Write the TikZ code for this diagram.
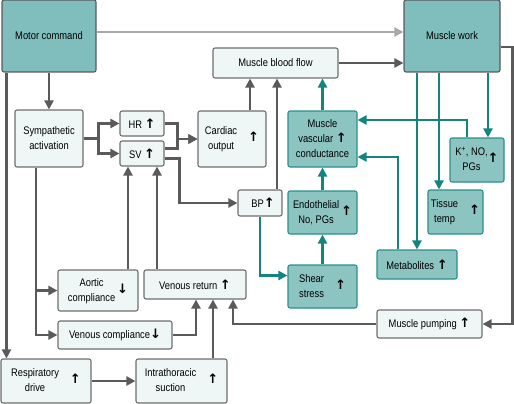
\documentclass[tikz,border=0pt]{standalone}
\usepackage{fontspec}
\setmainfont[FakeStretch=0.85]{Liberation Sans}
\newfontfamily\arrowfont{DejaVu Sans}
\usetikzlibrary{arrows.meta}
\definecolor{lightfill}{HTML}{EEF6F6}
\definecolor{boxline}{HTML}{6E6E6E}
\definecolor{tealfill}{HTML}{8CC4C2}
\definecolor{tealline}{HTML}{2A8F8A}
\definecolor{motorfill}{HTML}{7FBEBC}
\definecolor{tealarrow}{HTML}{13857F}
\definecolor{darkarrow}{HTML}{5A5A5A}
\definecolor{greyarrow}{HTML}{A8A8A8}
\newcommand{\up}{{\arrowfont\bfseries\fontsize{13}{13}\selectfont ↑}}
\newcommand{\down}{{\arrowfont\bfseries\fontsize{13}{13}\selectfont ↓}}
\newcommand{\two}[2]{\begin{tabular}{@{}c@{}}#1\\#2\end{tabular}}
\begin{document}
\begin{tikzpicture}[x=1pt,y=-1pt,>={Triangle[length=9pt,width=9pt]},
  font=\fontsize{11}{15}\selectfont,
  lbox/.style={draw=boxline, fill=lightfill, rounded corners=2pt, line width=1.1pt, align=center, inner sep=1pt},
  tbox/.style={draw=tealline, fill=tealfill, rounded corners=2pt, line width=1.1pt, align=center, inner sep=1pt},
  mbox/.style={draw=darkarrow, fill=motorfill, rounded corners=2pt, line width=1.1pt, align=center, inner sep=1pt},
  darrow/.style={draw=darkarrow, line width=2.4pt, ->},
  tarrow/.style={draw=tealarrow, line width=2.4pt, ->},
  garrow/.style={draw=greyarrow, line width=2.4pt, ->}]
\useasboundingbox (0,0) rectangle (514,404);
% boxes
\node[mbox, minimum width=94, minimum height=72] (motor) at (49,36) {Motor command};
\node[mbox, minimum width=96, minimum height=72] (work) at (452,36) {Muscle work};
\node[lbox, minimum width=125, minimum height=30] (flow) at (275.5,63) {Muscle blood flow};
\node[lbox, minimum width=68, minimum height=57] (symp) at (49,138.5) {Sympathetic\\activation};
\node[lbox, minimum width=44, minimum height=25] (hr) at (142,123.5) {HR \up};
\node[lbox, minimum width=44, minimum height=25] (sv) at (142,153.5) {SV \up};
\node[lbox, minimum width=68, minimum height=56] (co) at (232,139) {\two{Cardiac}{output}\quad\up};
\node[lbox, minimum width=44, minimum height=26] (bp) at (260,203) {\hspace{6pt}BP\up};
\node[tbox, minimum width=69, minimum height=56] (mvc) at (322.5,139)
  {\begin{tabular}{@{}c@{}}Muscle\\vascular \smash{\up}\\conductance\end{tabular}};
\node[tbox, minimum width=69, minimum height=43] (endo) at (322.5,212.5) {\two{Endothelial}{No, PGs}\,\up};
\node[tbox, minimum width=69, minimum height=43] (shear) at (322.5,286.5) {\two{Shear}{stress}\quad\up};
\node[tbox, minimum width=54, minimum height=44] (kno) at (477,160) {\two{K\textsuperscript{+}, NO,}{PGs}\up};
\node[tbox, minimum width=55, minimum height=44] (tissue) at (455.5,212) {\two{Tissue}{temp}\quad\up};
\node[tbox, minimum width=80, minimum height=29] (metab) at (417,264.5) {Metabolites \up};
\node[lbox, minimum width=102, minimum height=29] (venret) at (195,284.5) {Venous return \up};
\node[lbox, minimum width=80, minimum height=41] (aortic) at (98,290.5) {\two{Aortic}{compliance}\,\down};
\node[lbox, minimum width=114, minimum height=28] (vcomp) at (115,335) {Venous compliance\down};
\node[lbox, minimum width=105, minimum height=28] (pump) at (429.5,324) {Muscle pumping \up};
\node[lbox, minimum width=90, minimum height=44] (resp) at (46,381) {\two{Respiratory}{drive}\quad\up};
\node[lbox, minimum width=91, minimum height=44] (intra) at (181.5,381) {\two{Intrathoracic}{suction}\quad\up};
% grey connectors
\draw[garrow] ([yshift=4]motor.east) -- ([yshift=4]work.west);
\draw[darrow] (flow.east) -- (flow.east -| work.west);
\draw[darrow] ([yshift=-11]work.east) -- ++(12,0) |- (pump.east);
\draw[darrow] (pump.west) -| ([xshift=38]venret.south);
\draw[darrow] (vcomp.east) -| ([xshift=1]venret.south);
\draw[darrow] ([xshift=18]venret.south |- intra.north) -- ([xshift=18]venret.south);
\draw[darrow] (resp) -- (intra);
\draw[darrow] ([xshift=5]motor.south west) -- ([xshift=5]motor.south west |- resp.north);
\draw[darrow] (motor) -- (symp);
\draw[darrow] (symp.east) -- ++(15,0) |- (hr.west);
\draw[darrow] (symp.east) -- ++(15,0) |- (sv.west);
\draw[darrow] (hr.east) -- ++(13,0) |- (co.west);
\draw[darrow] ([yshift=5]sv.east) -- ++(13,0) |- (co.west);
\draw[darrow] ([yshift=-5]sv.east) -- ++(15,0) |- (bp.west);
\draw[darrow] ([xshift=18]co.north) -- ([xshift=18]co.north |- flow.south);
\draw[darrow] ([xshift=17]bp.north) -- ([xshift=17]bp.north |- flow.south);
\draw[darrow] ([xshift=-13]symp.south) |- (aortic.west);
\draw[darrow] ([xshift=-13]symp.south) |- (vcomp.west);
\draw[darrow] ([xshift=-14]sv.south |- aortic.north) -- ([xshift=-14]sv.south);
\draw[darrow] ([xshift=15]sv.south |- venret.north) -- ([xshift=15]sv.south);
% teal connectors
\draw[tarrow] (bp.south) |- ([yshift=11]shear.west);
\draw[tarrow] (shear) -- (endo);
\draw[tarrow] (endo) -- (mvc);
\draw[tarrow] (mvc.north) -- (mvc.north |- flow.south);
\draw[tarrow] (work.south -| metab.north) -- (metab.north);
\draw[tarrow] ([xshift=-16.5]work.south -| tissue.north) -- ([xshift=-16.5]tissue.north);
\draw[tarrow] ([xshift=11]work.south -| kno.north) -- ([xshift=11]kno.north);
\draw[tarrow] ([xshift=-10]kno.north) |- ([yshift=19]mvc.east);
\draw[tarrow] ([xshift=-19]metab.north) |- ([yshift=-18]mvc.east);
\end{tikzpicture}
\end{document}
